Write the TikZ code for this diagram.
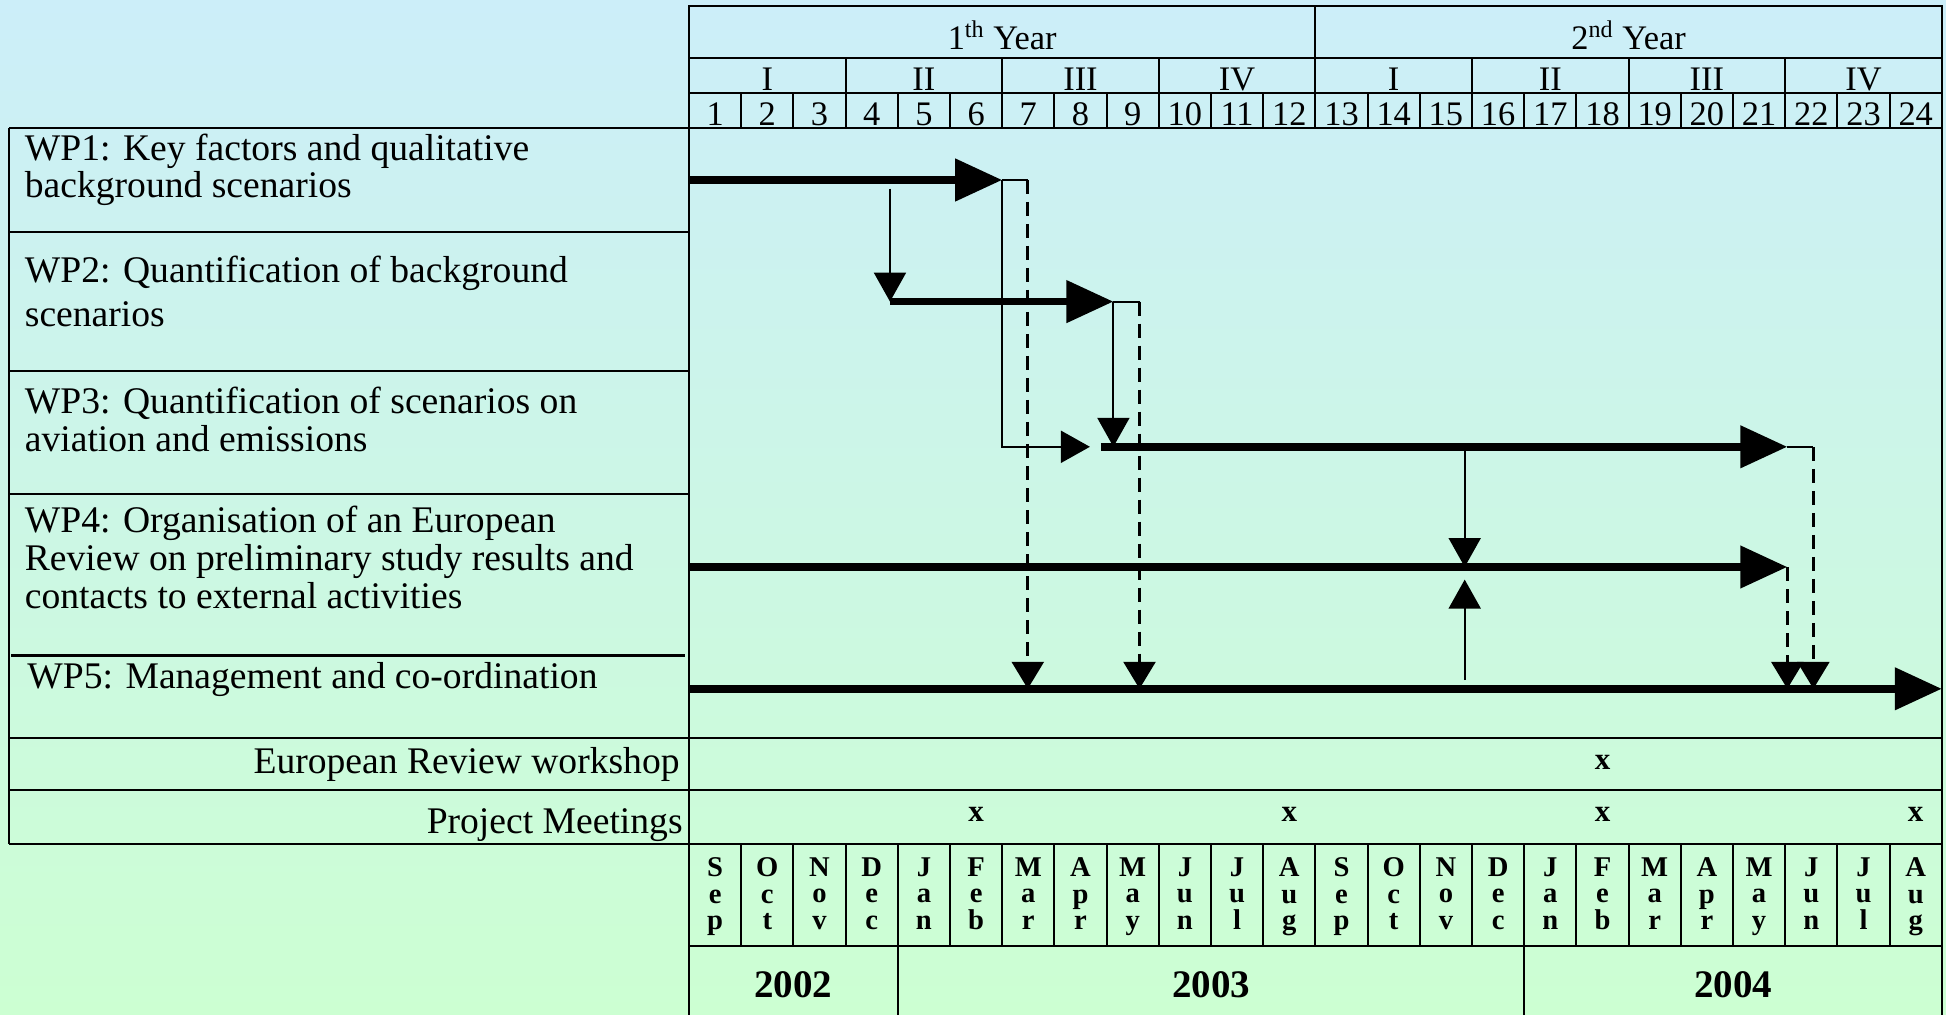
\documentclass[tikz,border=0pt]{standalone}
\usepackage{fontspec}
\setmainfont{Liberation Serif}
\usetikzlibrary{arrows.meta}
\definecolor{bgtop}{RGB}{204,238,249}
\definecolor{bgbot}{RGB}{204,255,210}
\newcommand\cx[1]{689+(#1)*52.2}

\begin{document}
\begin{tikzpicture}[
  x=0.5pt, y=-0.5pt,
  tline/.style={line width=1pt},
  wplabel/.style={anchor=north west, align=left, inner sep=0pt, font=\fontsize{18.8}{19}\selectfont},
  rowlabel/.style={anchor=base east, inner sep=0pt, font=\fontsize{18.8}{19}\selectfont},
  head/.style={anchor=base, inner sep=0pt, font=\fontsize{17.2}{17}\selectfont},
  month/.style={anchor=north, align=center, inner sep=0pt, font=\bfseries\fontsize{14.3}{13.4}\selectfont},
  yearlab/.style={anchor=base, inner sep=0pt, font=\bfseries\fontsize{19.5}{20}\selectfont},
  meetx/.style={anchor=base, inner sep=0pt, font=\bfseries\fontsize{15.5}{16}\selectfont},
  bar/.style={line width=3.8pt, -{Triangle[length=23.5pt,width=20.5pt]}},
  link/.style={line width=1pt},
  linkarrow/.style={link, -{Triangle[length=14.5pt,width=16pt]}},
  dashlink/.style={line width=1.3pt, dash pattern=on 7pt off 4pt, -{Triangle[length=13.5pt,width=16pt]}}
]
\shade[top color=bgtop, bottom color=bgbot] (0,0) rectangle (1946,1015);
\useasboundingbox (0,0) rectangle (1946,1015);

% table frame
\draw[tline] ({\cx{0}},1015) -- ({\cx{0}},6) -- ({\cx{24}},6) -- ({\cx{24}},1015);
\foreach \y in {58,93,946} \draw[tline] ({\cx{0}},\y) -- ({\cx{24}},\y);
\foreach \y in {128,738,790,844} \draw[tline] (9,\y) -- ({\cx{24}},\y);
\draw[tline] (9,128) -- (9,844);
\foreach \y in {232,371,494} \draw[tline] (9,\y) -- ({\cx{0}},\y);
\draw[line width=1.5pt] (11,655.5) -- (685,655.5);
\draw[tline] ({\cx{12}},6) -- ({\cx{12}},58);
\foreach \q in {3,6,...,21} \draw[tline] ({\cx{\q}},58) -- ({\cx{\q}},93);
\foreach \i in {1,...,23} {
  \draw[tline] ({\cx{\i}},93) -- ({\cx{\i}},128);
  \draw[tline] ({\cx{\i}},844) -- ({\cx{\i}},946);
}
\foreach \i in {4,16} \draw[tline] ({\cx{\i}},946) -- ({\cx{\i}},1015);

% header
\node[head] (year1) at ({\cx{6}},50) {1\textsuperscript{th} Year};
\node[head] (year2) at ({\cx{18}},50) {2\textsuperscript{nd} Year};
\foreach \r [count=\k] in {I,II,III,IV,I,II,III,IV}
  \node[head] (q\k) at ({\cx{3*\k-1.5}},91) {\r};
\foreach \i in {1,...,24}
  \node[head] (n\i) at ({\cx{\i-0.5}},126) {\i};

% months and years
\foreach \m [count=\i] in {S\\e\\p, O\\c\\t, N\\o\\v, D\\e\\c, J\\a\\n, F\\e\\b, M\\a\\r, A\\p\\r, M\\a\\y, J\\u\\n, J\\u\\l, A\\u\\g, S\\e\\p, O\\c\\t, N\\o\\v, D\\e\\c, J\\a\\n, F\\e\\b, M\\a\\r, A\\p\\r, M\\a\\y, J\\u\\n, J\\u\\l, A\\u\\g}
  \node[month] (m\i) at ({\cx{\i-0.5}},857) {\m};
\node[yearlab] (y2002) at ({\cx{2}},997) {2002};
\node[yearlab] (y2003) at ({\cx{10}},997) {2003};
\node[yearlab] (y2004) at ({\cx{20}},997) {2004};

% row labels
\node[wplabel] (wp1) at (24.5,134) {WP1: Key factors and qualitative\\[-0.6pt]background scenarios};
\node[wplabel] (wp2) at (24.5,256) {WP2: Quantification of background\\[2.6pt]scenarios};
\node[wplabel] (wp3) at (24.5,387) {WP3: Quantification of scenarios on\\aviation and emissions};
\node[wplabel] (wp4) at (24.5,506) {WP4: Organisation of an European\\Review on preliminary study results and\\contacts to external activities};
\node[wplabel] (wp5) at (27,662) {WP5: Management and co-ordination};
\node[rowlabel] (erw) at (680,773) {European Review workshop};
\node[rowlabel] (pm) at (683,833) {Project Meetings};

% workshop and meetings
\node[meetx] (rx) at ({\cx{17.5}},769) {x};
\foreach \c [count=\k] in {5.5,11.5,17.5,23.5}
  \node[meetx] (px\k) at ({\cx{\c}},821) {x};

% work package bars
\coordinate (wp1s) at ({\cx{0}},180);
\coordinate (wp1e) at ({\cx{6}},180);
\coordinate (wp2s) at ({\cx{3.85}},301.6);
\coordinate (wp2e) at ({\cx{8.13}},301.6);
\coordinate (wp3s) at ({\cx{7.89}},446.8);
\coordinate (wp3e) at ({\cx{21.04}},446.8);
\coordinate (wp4s) at ({\cx{0}},567);
\coordinate (wp4e) at ({\cx{21.04}},567);
\coordinate (wp5s) at ({\cx{0}},688.8);
\coordinate (wp5e) at ({\cx{24}},688.8);
\draw[bar] (wp1s) -- (wp1e);
\draw[bar] (wp2s) -- (wp2e);
\draw[bar] (wp3s) -- (wp3e);
\draw[bar] (wp4s) -- (wp4e);
\draw[bar] (wp5s) -- (wp5e);

% dependencies
\coordinate (k1) at ({\cx{3.85}},188.6);
\coordinate (in3) at ({\cx{7.68}},446.8);
\coordinate (k2) at ({\cx{14.86}},446.8);
\coordinate (k3) at ({\cx{14.86}},680);
\coordinate (k4) at ({\cx{14.86}},579.6);
\draw[linkarrow] (k1) -- (wp2s);
\draw[linkarrow] (wp1e) |- (in3);
\draw[linkarrow] (wp2e) -- (wp2e |- wp3s);
\draw[linkarrow] (k2) -- (k2 |- wp4s);
\draw[linkarrow] (k3) -- (k4);

% reports to WP5
\coordinate (d1) at ({\cx{6.49}},180);
\coordinate (d2) at ({\cx{8.63}},301.6);
\coordinate (d4) at ({\cx{21.54}},446.8);
\draw[link] (wp1e) -- (d1);
\draw[dashlink] (d1) -- (d1 |- wp5s);
\draw[link] (wp2e) -- (d2);
\draw[dashlink] (d2) -- (d2 |- wp5s);
\draw[dashlink] (wp4e) -- (wp4e |- wp5s);
\draw[link] (wp3e) -- (d4);
\draw[dashlink] (d4) -- (d4 |- wp5s);
\end{tikzpicture}
\end{document}
